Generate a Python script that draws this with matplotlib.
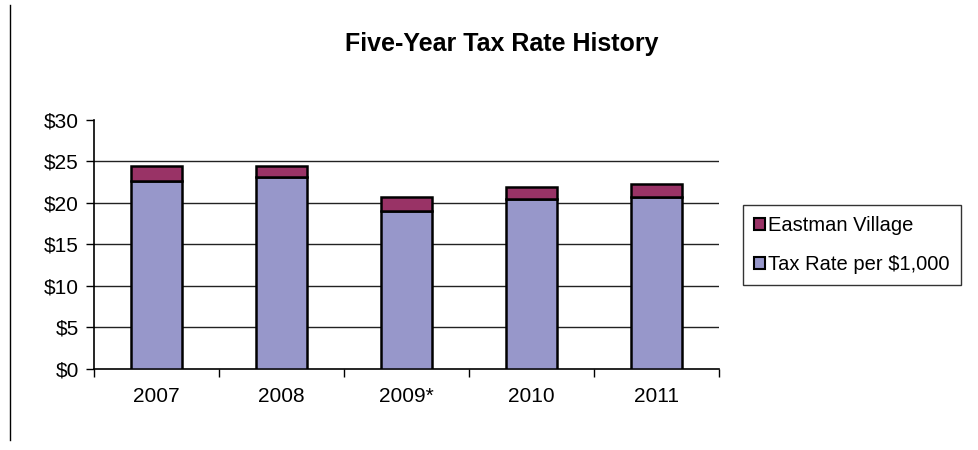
import matplotlib.pyplot as plt
from matplotlib.lines import Line2D
from matplotlib.patches import Patch

plt.rcParams['font.family'] = ['Liberation Sans', 'DejaVu Sans']

years = ['2007', '2008', '2009*', '2010', '2011']
tax_rate = [22.65, 23.1, 19.0, 20.5, 20.65]
eastman = [1.75, 1.3, 1.65, 1.45, 1.6]
yticks = [0, 5, 10, 15, 20, 25, 30]

W, H = 979, 450
fig = plt.figure(figsize=(W / 100, H / 100), dpi=100)
ax = fig.add_axes([94 / W, (H - 368.7) / H, 625 / W, 249 / H])

x = list(range(len(years)))
ax.bar(x, tax_rate, width=0.41, color='#9797CA', edgecolor='black', linewidth=1.8, zorder=3)
ax.bar(x, eastman, width=0.41, bottom=tax_rate, color='#993366', edgecolor='black', linewidth=1.8, zorder=3)

ax.set_xlim(-0.5, len(years) - 0.5)
ax.set_ylim(0, 30)
ax.set_yticks(yticks)
ax.set_yticklabels([f'${v}' for v in yticks], fontsize=15)
for v in yticks[1:-1]:
    ax.axhline(v, color='#222222', linewidth=1.0, zorder=1)

# category labels centred, ticks between categories
ax.set_xticks(x)
ax.set_xticklabels(years, fontsize=15)
ax.tick_params(axis='x', length=0, pad=13)
ax.set_xticks([i - 0.5 for i in range(len(years) + 1)], minor=True)
ax.tick_params(axis='x', which='minor', length=6, width=1, direction='out')
ax.tick_params(axis='y', length=6, width=1, direction='out', pad=5)

for s in ['top', 'right']:
    ax.spines[s].set_visible(False)
ax.spines['left'].set_linewidth(1.2)
ax.spines['bottom'].set_linewidth(1.2)

fig.text(502 / W, 1 - 44 / H, 'Five-Year Tax Rate History', ha='center', va='center',
         fontsize=18, fontweight='bold')

handles = [Patch(facecolor='#993366', edgecolor='black', linewidth=1.5),
           Patch(facecolor='#9797CA', edgecolor='black', linewidth=1.5)]
leg = fig.legend(handles, ['Eastman Village', 'Tax Rate per $1,000'],
                 loc='upper left', bbox_to_anchor=(743 / W, 1 - 205 / H),
                 fontsize=14.5, frameon=True, fancybox=False, handlelength=0.55,
                 handleheight=0.55, handletextpad=0.15, labelspacing=1.0,
                 borderpad=0.55, borderaxespad=0)
leg.get_frame().set_edgecolor('black')
leg.get_frame().set_linewidth(1.0)

fig.add_artist(Line2D([9.5 / W, 9.5 / W], [1 - 5 / H, 1 - 440 / H], color='black', linewidth=1.0))

fig.savefig('out.png', dpi=100)
